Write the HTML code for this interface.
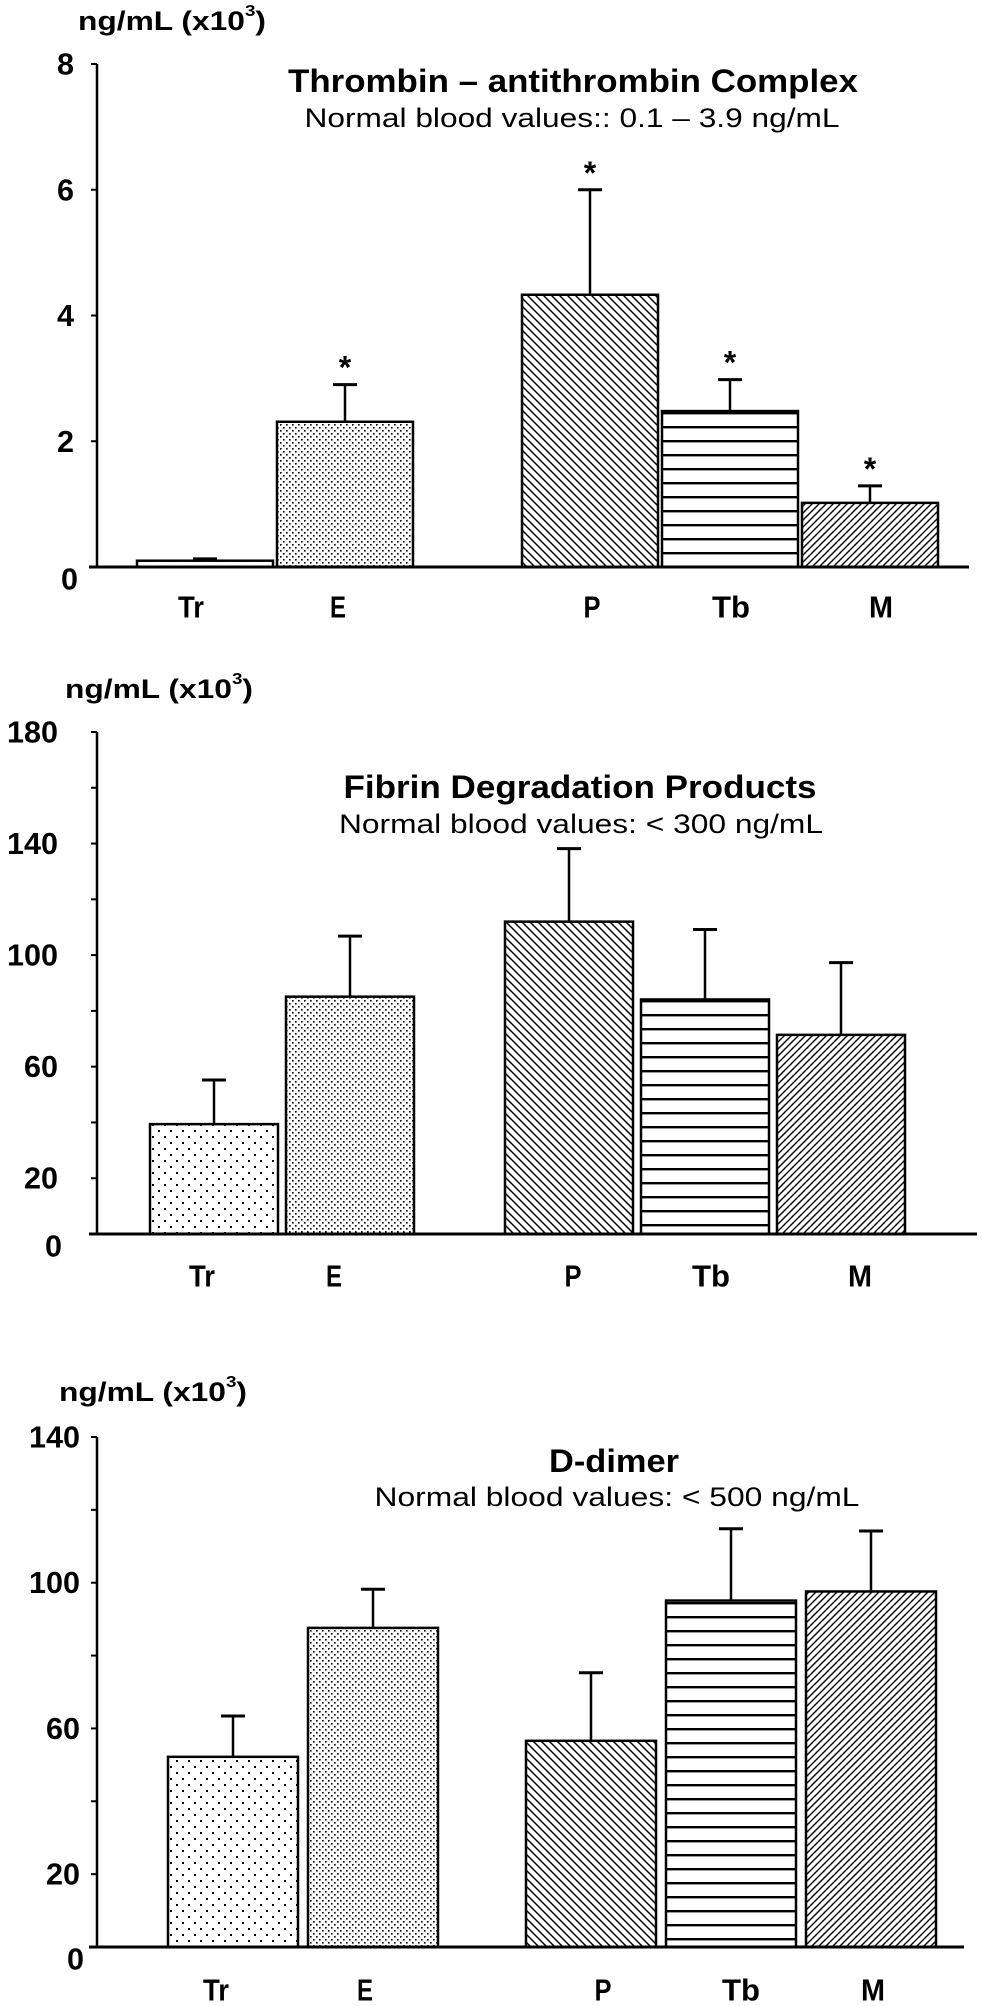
<!DOCTYPE html>
<html><head><meta charset="utf-8"><style>
html,body{margin:0;padding:0;background:#fff;}
svg{display:block;font-family:"Liberation Sans",Arial,sans-serif;}
</style></head><body>
<svg id="fig" width="982" height="2006" viewBox="0 0 982 2006">
<defs>
<pattern id="pTr" width="12" height="12" patternUnits="userSpaceOnUse"><rect width="12" height="12" fill="#fff"/><rect x="2" y="2" width="2" height="2" fill="#000"/><rect x="8" y="8" width="2" height="2" fill="#000"/></pattern>
<pattern id="pE" width="6" height="6" patternUnits="userSpaceOnUse"><rect width="6" height="6" fill="#fff"/><rect x="1" y="1" width="1.6" height="1.6" fill="#000"/><rect x="4" y="4" width="1.6" height="1.6" fill="#000"/></pattern>
<pattern id="pP" width="8" height="8" patternUnits="userSpaceOnUse"><rect width="8" height="8" fill="#fff"/><path d="M-2,-2 L10,10 M-2,6 L2,10 M6,-2 L10,2" stroke="#000" stroke-width="1.5"/></pattern>
<pattern id="pTb" width="10" height="14" patternUnits="userSpaceOnUse"><rect width="10" height="14" fill="#fff"/><rect x="0" y="6" width="10" height="2.4" fill="#000"/></pattern>
<pattern id="pM" width="7" height="7" patternUnits="userSpaceOnUse"><rect width="7" height="7" fill="#fff"/><path d="M-2,9 L9,-2 M-2,2 L2,-2 M5,9 L9,5" stroke="#000" stroke-width="1.4"/></pattern>
</defs>
</svg>
<script>
const categories = ["Tr","E","P","Tb","M"];
const patterns = ["pTr","pE","pP","pTb","pM"];

const tatValues = [0.1, 2.31, 4.33, 2.48, 1.02];
const tatErrors = [0.13, 2.9, 6.0, 2.98, 1.29];
const tatStars = [false, true, true, true, true];
const tatTicks = [0, 2, 4, 6, 8];
const tatTickLabels = ["0","2","4","6","8"];

const fdpValues = [39.4, 85.1, 112, 84.1, 71.4];
const fdpErrors = [55.2, 106.8, 138.2, 109.2, 97.3];
const fdpStars = [false, false, false, false, false];
const fdpTicks = [0, 20, 40, 60, 80, 100, 120, 140, 160, 180];
const fdpTickLabels = ["0","20","","60","","100","","140","","180"];

const ddValues = [52.2, 87.6, 56.6, 95.1, 97.6];
const ddErrors = [63.4, 98.2, 75.3, 114.8, 114.2];
const ddStars = [false, false, false, false, false];
const ddTicks = [0, 20, 40, 60, 80, 100, 120, 140];
const ddTickLabels = ["0","20","","60","","100","","140"];

const catWidths = {Tr: 26, E: 16, P: 17, Tb: 38, M: 24};

const NS = "http://www.w3.org/2000/svg";
const svg = document.getElementById("fig");
function mk(tag, attrs, parent) {
  const el = document.createElementNS(NS, tag);
  for (const k in attrs) el.setAttribute(k, attrs[k]);
  (parent || svg).appendChild(el);
  return el;
}

function drawChart(cfg, values, errors, stars, ticks, tickLabels) {
  const g = mk("g", {});
  
  
  const yMax = ticks[ticks.length - 1];
  const y = v => cfg.y0 - (v / yMax) * (cfg.y0 - cfg.yTop);
  const x = i => cfg.x0 + i * cfg.step + (i >= 2 ? cfg.gap : 0);

  const yl = mk("text", {x: cfg.ylX, y: cfg.ylY, "font-size": 27, "font-weight": "bold", "dominant-baseline": "central", textLength: 188, lengthAdjust: "spacingAndGlyphs"}, g);
  
  
  yl.innerHTML = 'ng/mL (x10<tspan font-size="16" dy="-10">3</tspan><tspan dy="10">)</tspan>';

  const t = mk("text", {x: cfg.tX, y: cfg.tY, "font-size": 32, "font-weight": "bold", "text-anchor": "middle", "dominant-baseline": "central", textLength: cfg.tW, lengthAdjust: "spacingAndGlyphs"}, g);
  
  
  t.textContent = cfg.title;
  const st = mk("text", {x: cfg.sX, y: cfg.sY, "font-size": 27, "text-anchor": "middle", "dominant-baseline": "central", textLength: cfg.sW, lengthAdjust: "spacingAndGlyphs"}, g);
  
  
  st.textContent = cfg.subtitle;

  values.forEach((v, i) => {
    const bx = x(i), top = y(v), et = y(errors[i]), cx = bx + cfg.w / 2;
    const el = mk("line", {x1: cx, x2: cx, y1: top, y2: et, stroke: "#000", "stroke-width": 2.5}, g);
    
    
    const cap = mk("line", {x1: cx - 12, x2: cx + 12, y1: et, y2: et, stroke: "#000", "stroke-width": 3}, g);
    
    
    const r = mk("rect", {x: bx, y: top, width: cfg.w, height: cfg.y0 - top, fill: "url(#" + patterns[i] + ")", stroke: "#000", "stroke-width": 2.5}, g);
    
    
    if (stars[i]) {
      const s = mk("text", {x: cx, y: et - 6, "font-size": 32, "font-weight": "bold", "text-anchor": "middle"}, g);
      
      
      s.textContent = "*";
    }
    const cl = mk("text", {x: cfg.catX[i], y: cfg.catY, "font-size": 31, "font-weight": "bold", "text-anchor": "middle", "dominant-baseline": "central", textLength: catWidths[categories[i]], lengthAdjust: "spacingAndGlyphs"}, g);
    
    
    cl.textContent = categories[i];
  });

  const ya = mk("line", {x1: cfg.ax, x2: cfg.ax, y1: cfg.yTop, y2: cfg.y0, stroke: "#000", "stroke-width": 2.5}, g);
  
  
  const xa = mk("line", {x1: cfg.ax - 8, x2: cfg.axEnd, y1: cfg.y0, y2: cfg.y0, stroke: "#000", "stroke-width": 3}, g);
  
  
  ticks.forEach((tv, i) => {
    const ty = y(tv);
    const tk = mk("line", {x1: cfg.ax - 6, x2: cfg.ax, y1: ty, y2: ty, stroke: "#000", "stroke-width": 2}, g);
    
    
    if (tickLabels[i]) {
      const lbl = tickLabels[i];
      const tl = mk("text", {x: cfg.tlX + (tv === 0 ? 4 : 0), y: ty + (tv === 0 ? 12 : 0), "font-size": 31, "font-weight": "bold", "text-anchor": "end", "dominant-baseline": "central", textLength: 17 * lbl.length, lengthAdjust: "spacingAndGlyphs"}, g);
      
      
      tl.textContent = lbl;
    }
  });
}

drawChart({name: "tat-chart", ax: 97, axEnd: 969, y0: 567, yTop: 64, x0: 137, step: 140, w: 136, gap: 105,
  ylX: 78, ylY: 21, title: "Thrombin \u2013 antithrombin Complex", tX: 573, tY: 81, tW: 570,
  subtitle: "Normal blood values:: 0.1 \u2013 3.9 ng/mL", sX: 572, sY: 118, sW: 535,
  tlX: 74, catX: [191, 338, 592, 731, 881], catY: 607},
  tatValues, tatErrors, tatStars, tatTicks, tatTickLabels);

drawChart({name: "fdp-chart", ax: 97, axEnd: 977, y0: 1234, yTop: 732, x0: 150, step: 136, w: 128, gap: 83,
  ylX: 65, ylY: 689, title: "Fibrin Degradation Products", tX: 580, tY: 787, tW: 473,
  subtitle: "Normal blood values: < 300 ng/mL", sX: 581, sY: 824, sW: 484,
  tlX: 58, catX: [202, 334, 573, 711, 860], catY: 1276},
  fdpValues, fdpErrors, fdpStars, fdpTicks, fdpTickLabels);

drawChart({name: "d-dimer-chart", ax: 97, axEnd: 964, y0: 1947, yTop: 1437, x0: 168, step: 140, w: 130, gap: 78,
  ylX: 59, ylY: 1392, title: "D-dimer", tX: 614, tY: 1461, tW: 130,
  subtitle: "Normal blood values: < 500 ng/mL", sX: 617, sY: 1497, sW: 485,
  tlX: 80, catX: [216, 365, 603, 741, 873], catY: 1990},
  ddValues, ddErrors, ddStars, ddTicks, ddTickLabels);
</script>
</body></html>
